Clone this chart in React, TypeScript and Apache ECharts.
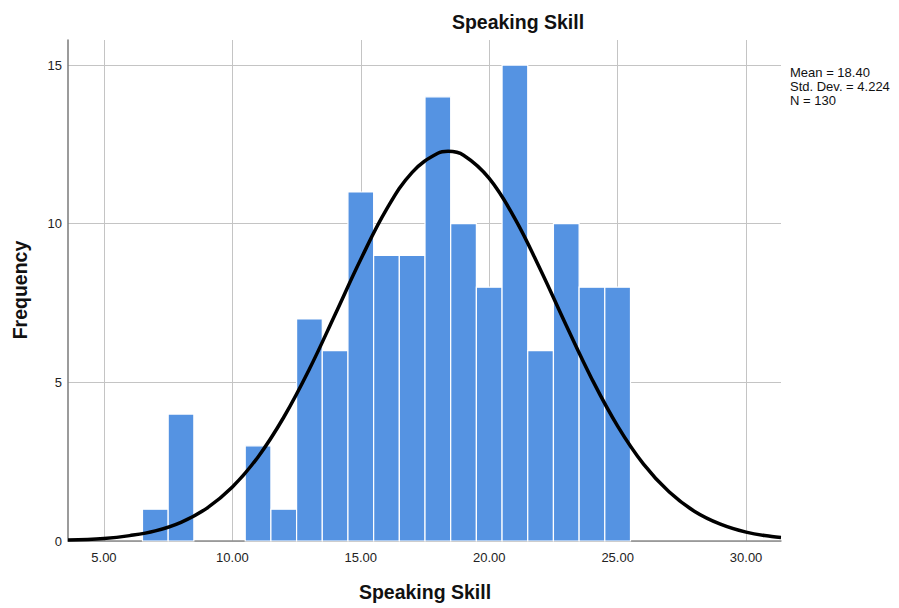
import React, { useEffect, useRef } from "react";
import * as echarts from "echarts";

// Histogram bins (bin centres, width 1) and frequencies
const binCenters = [7, 8, 9, 10, 11, 12, 13, 14, 15, 16, 17, 18, 19, 20, 21, 22, 23, 24, 25];
const frequencies = [1, 4, 0, 0, 3, 1, 7, 6, 11, 9, 9, 14, 10, 8, 15, 6, 10, 8, 8];
const binWidth = 1;

// Normal curve points
const curveX = [3.6, 5, 6, 7, 8, 9, 10, 11, 12, 13, 14, 15, 16, 17, 18, 18.4, 19, 20, 21, 22, 23, 24, 25, 26, 27, 28, 29, 30, 31, 31.36];
const curveY = [0.03, 0.08, 0.17, 0.32, 0.59, 1.03, 1.7, 2.65, 3.9, 5.42, 7.14, 8.88, 10.45, 11.62, 12.22, 12.28, 12.16, 11.43, 10.16, 8.54, 6.79, 5.1, 3.62, 2.43, 1.55, 0.93, 0.53, 0.28, 0.14, 0.11];

const xTicks = [5, 10, 15, 20, 25, 30];
const yTicks = [0, 5, 10, 15];
const statsLines = ["Mean = 18.40", "Std. Dev. = 4.224", "N = 130"];
const titleText = "Speaking Skill";
const xName = "Speaking Skill";
const yName = "Frequency";

export default function App() {
  const ref = useRef<HTMLDivElement>(null);
  useEffect(() => {
    if (!ref.current) return;
    const chart = echarts.init(ref.current, undefined, { renderer: "svg" });
    const font = "'Liberation Sans', Arial, sans-serif";
    const histData = binCenters.map((c, i) => [c - binWidth / 2, c + binWidth / 2, frequencies[i]]);
    chart.setOption({
      animation: false,
      backgroundColor: "#ffffff",
      textStyle: { fontFamily: font },
      grid: { left: 68, right: 118, top: 40, bottom: 67, containLabel: false },
      xAxis: {
        type: "value",
        min: 3.6,
        max: 31.36,
        axisLine: { show: true, onZero: false, lineStyle: { color: "#8c8c8c", width: 1.5 } },
        axisTick: { show: false, customValues: xTicks },
        axisLabel: {
          customValues: xTicks,
          formatter: (v: number) => v.toFixed(2),
          fontSize: 13,
          color: "#222",
          margin: 10,
          fontFamily: font,
        },
        splitLine: { show: true, lineStyle: { color: "#c4c4c4", width: 1 } },
      },
      yAxis: {
        type: "value",
        min: 0,
        max: 15.79,
        axisLine: { show: true, lineStyle: { color: "#7a7a7a", width: 1.5 } },
        axisTick: { show: false, customValues: yTicks },
        axisLabel: {
          customValues: yTicks,
          fontSize: 13,
          color: "#222",
          margin: 6,
          fontFamily: font,
        },
        splitLine: { show: true, lineStyle: { color: "#c4c4c4", width: 1 } },
      },
      series: [
        {
          type: "custom",
          z: 2,
          data: histData,
          encode: { x: [0, 1], y: 2 },
          renderItem: (params: any, api: any) => {
            const lo = api.value(0);
            const hi = api.value(1);
            const v = api.value(2);
            if (!v) return null;
            const p0 = api.coord([lo, v]);
            const p1 = api.coord([hi, 0]);
            return {
              type: "rect",
              shape: { x: p0[0], y: p0[1], width: p1[0] - p0[0], height: p1[1] - p0[1] },
              style: { fill: "#5593E2", stroke: "#ffffff", lineWidth: 1.2 },
            };
          },
        },
        {
          type: "line",
          z: 3,
          data: curveX.map((x, i) => [x, curveY[i]]),
          smooth: 0.4,
          showSymbol: false,
          symbol: "none",
          lineStyle: { color: "#000000", width: 3.5 },
        },
      ],
      graphic: [
        {
          type: "text",
          x: 518,
          y: 22,
          style: {
            text: titleText,
            font: `bold 19.5px ${font}`,
            fill: "#111",
            textAlign: "center",
            textVerticalAlign: "middle",
          },
        },
        {
          type: "text",
          x: 425,
          y: 592,
          style: {
            text: xName,
            font: `bold 19.5px ${font}`,
            fill: "#111",
            textAlign: "center",
            textVerticalAlign: "middle",
          },
        },
        {
          type: "text",
          x: 20,
          y: 290,
          rotation: Math.PI / 2,
          style: {
            text: yName,
            font: `bold 19.5px ${font}`,
            fill: "#111",
            textAlign: "center",
            textVerticalAlign: "middle",
          },
        },
        {
          type: "text",
          x: 790,
          y: 65.5,
          style: {
            text: statsLines.join("\n"),
            font: `13px ${font}`,
            lineHeight: 13.8,
            fill: "#111",
          },
        },
      ],
    });
    return () => chart.dispose();
  }, []);
  return <div ref={ref} style={{ width: 899, height: 608, position: "absolute", left: 0, top: 0 }} />;
}
